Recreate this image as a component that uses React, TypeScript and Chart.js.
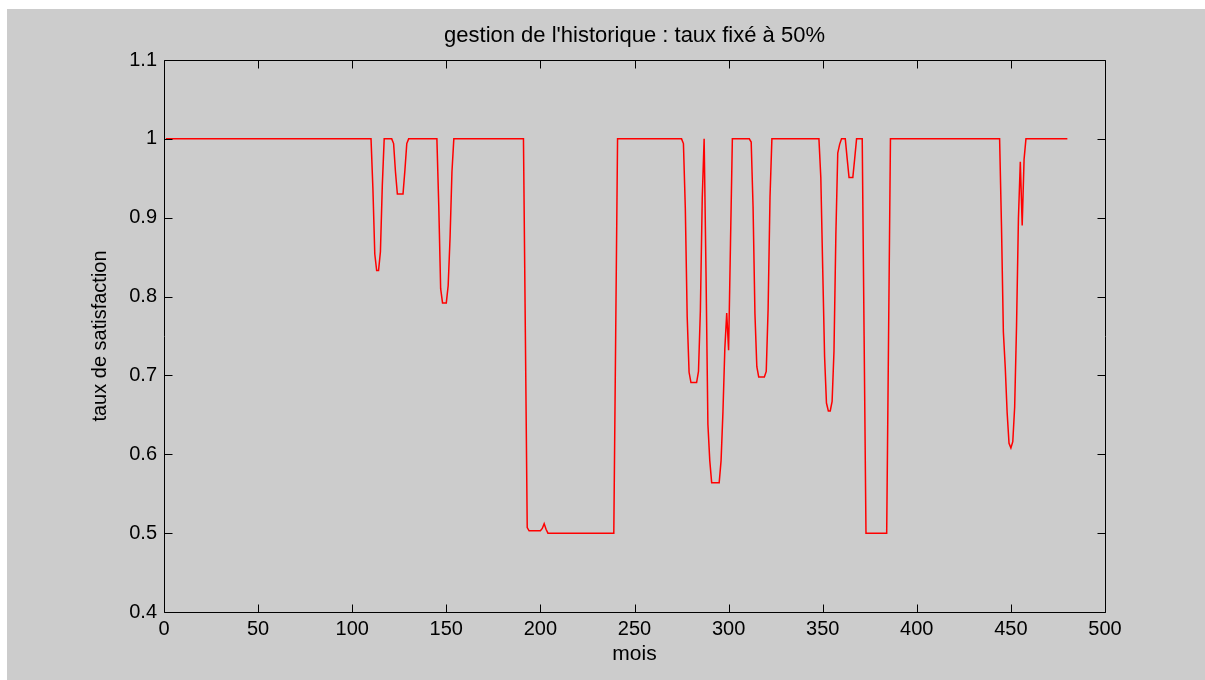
import React, { useEffect, useRef } from "react";
import { Chart, registerables } from "chart.js";

Chart.register(...registerables);

const TITLE = "gestion de l'historique : taux fixé à 50%";
const X_LABEL = "mois";
const Y_LABEL = "taux de satisfaction";

const X_TICKS = [0, 50, 100, 150, 200, 250, 300, 350, 400, 450, 500];
const Y_TICKS = [0.4, 0.5, 0.6, 0.7, 0.8, 0.9, 1, 1.1];

// vertices of the polyline (month, satisfaction rate)
const MONTHS = [
  1, 110, 111, 112, 113, 114, 115, 116, 117,
  121, 122, 123, 124, 127, 128, 129, 130,
  145, 146, 147, 148, 150, 151, 152, 153, 154,
  191, 192, 193, 194, 200, 201, 202, 203, 204, 239, 240, 241,
  275, 276, 277, 278, 279, 280, 283, 284, 285, 286, 287,
  288, 289, 290, 291, 295, 296, 297, 298, 299, 300, 301, 302,
  311, 312, 313, 314, 315, 316, 319, 320, 321, 322, 323,
  348, 349, 350, 351, 352, 353, 354, 355, 356, 357, 358, 359, 360,
  362, 363, 364, 366, 367, 368,
  371, 372, 373, 384, 385, 386,
  444, 445, 446, 447, 448, 449, 450, 451, 452, 453, 454, 455, 456, 457, 458,
  480,
];
const SATISFACTION = [
  1, 1, 0.937, 0.854, 0.833, 0.833, 0.857, 0.941, 1,
  1, 0.994, 0.958, 0.93, 0.93, 0.96, 0.994, 1,
  1, 0.915, 0.81, 0.792, 0.792, 0.814, 0.875, 0.958, 1,
  1, 0.755, 0.507, 0.503, 0.503, 0.506, 0.512, 0.505, 0.5, 0.5, 0.751, 1,
  1, 0.994, 0.912, 0.774, 0.704, 0.691, 0.691, 0.705, 0.782, 0.925, 1,
  0.83, 0.638, 0.592, 0.564, 0.564, 0.592, 0.654, 0.734, 0.779, 0.732, 0.867, 1,
  1, 0.996, 0.914, 0.778, 0.711, 0.698, 0.698, 0.705, 0.785, 0.926, 1,
  1, 0.951, 0.836, 0.724, 0.665, 0.655, 0.655, 0.667, 0.731, 0.879, 0.982, 0.993, 1,
  1, 0.975, 0.951, 0.951, 0.975, 1,
  1, 0.75, 0.5, 0.5, 0.75, 1,
  1, 0.889, 0.755, 0.71, 0.653, 0.614, 0.608, 0.616, 0.66, 0.763, 0.899, 0.971, 0.89, 0.974, 1,
  1,
];

const FONT = "'Liberation Sans', Arial, Helvetica, sans-serif";
const TICK_LEN = 8;

const framePlugin = {
  id: "matlabFrame",
  afterDatasetsDraw(chart: any) {
    const { ctx, chartArea, scales } = chart;
    const { left, right, top, bottom } = chartArea;
    const L = Math.round(left) + 0.5;
    const R = Math.round(right) + 0.5;
    const T = Math.round(top) + 0.5;
    const B = Math.round(bottom) + 0.5;
    ctx.save();
    ctx.strokeStyle = "#000";
    ctx.lineWidth = 1;
    ctx.beginPath();
    ctx.rect(L, T, R - L, B - T);
    for (const t of scales.x.ticks) {
      const px = Math.round(scales.x.getPixelForValue(t.value)) + 0.5;
      ctx.moveTo(px, B);
      ctx.lineTo(px, B - TICK_LEN);
      ctx.moveTo(px, T);
      ctx.lineTo(px, T + TICK_LEN);
    }
    for (const t of scales.y.ticks) {
      const py = Math.round(scales.y.getPixelForValue(t.value)) + 0.5;
      ctx.moveTo(L, py);
      ctx.lineTo(L + TICK_LEN, py);
      ctx.moveTo(R, py);
      ctx.lineTo(R - TICK_LEN, py);
    }
    ctx.stroke();
    ctx.restore();
  },
};

export default function App() {
  const canvasRef = useRef<HTMLCanvasElement | null>(null);

  useEffect(() => {
    const canvas = canvasRef.current;
    if (!canvas) return;
    const chart = new Chart(canvas, {
      type: "line",
      data: {
        datasets: [
          {
            data: MONTHS.map((m, i) => ({ x: m, y: SATISFACTION[i] })),
            borderColor: "#ff0000",
            borderWidth: 1.5,
            pointRadius: 0,
            tension: 0,
            fill: false,
          },
        ],
      },
      options: {
        animation: false,
        responsive: false,
        devicePixelRatio: 1,
        layout: { padding: { left: 0, right: 100, top: 0, bottom: 0 } },
        plugins: {
          legend: { display: false },
          tooltip: { enabled: false },
          title: {
            display: true,
            fullSize: false,
            text: TITLE,
            color: "#000",
            font: { family: FONT, size: 22, weight: "normal", lineHeight: 1.2 },
            padding: { top: 14, bottom: 10.6 },
          },
        },
        scales: {
          x: {
            type: "linear",
            min: 0,
            max: 500,
            afterBuildTicks: (s: any) => {
              s.ticks = X_TICKS.map((v) => ({ value: v }));
            },
            afterFit: (s: any) => {
              s.height = 68;
            },
            grid: { display: false, drawTicks: false },
            border: { display: false },
            ticks: {
              color: "#000",
              font: { family: FONT, size: 20, lineHeight: 1.2 },
              padding: 5,
              maxRotation: 0,
              autoSkip: false,
              callback: (v: any) => String(v),
            },
            title: {
              display: true,
              text: X_LABEL,
              color: "#000",
              font: { family: FONT, size: 21, lineHeight: 1.2 },
              padding: { top: 0, bottom: 13.3 },
            },
          },
          y: {
            type: "linear",
            min: 0.4,
            max: 1.1,
            afterBuildTicks: (s: any) => {
              s.ticks = Y_TICKS.map((v) => ({ value: v }));
            },
            afterFit: (s: any) => {
              s.width = 157;
            },
            grid: { display: false, drawTicks: false },
            border: { display: false },
            ticks: {
              color: "#000",
              font: { family: FONT, size: 20, lineHeight: 1.2 },
              padding: 7,
              autoSkip: false,
              callback: (v: any) => String(v),
            },
            title: {
              display: true,
              text: Y_LABEL,
              color: "#000",
              font: { family: FONT, size: 20, lineHeight: 1.2 },
              padding: { top: 81, bottom: 0 },
            },
          },
        },
      },
      plugins: [framePlugin],
    } as any);
    return () => chart.destroy();
  }, []);

  return (
    <div
      style={{
        position: "absolute",
        left: 7,
        top: 9,
        width: 1198,
        height: 671,
        background: "#cccccc",
      }}
    >
      <canvas ref={canvasRef} width={1198} height={671} style={{ display: "block" }} />
    </div>
  );
}
